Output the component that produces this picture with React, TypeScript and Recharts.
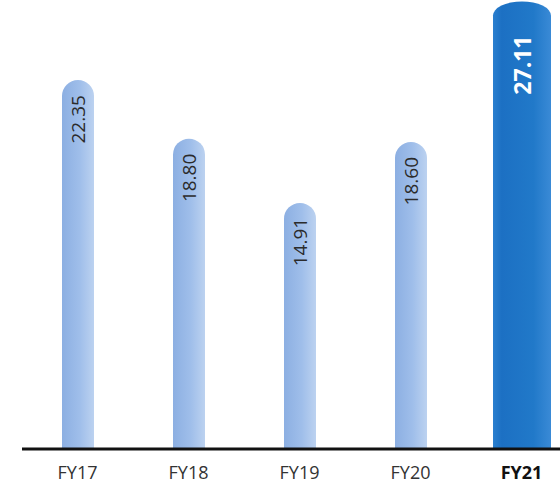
import { Bar, BarChart, LabelList, XAxis, YAxis } from 'recharts';

const YEARS = ['FY17', 'FY18', 'FY19', 'FY20', 'FY21'];
const VALUES = [22.35, 18.8, 14.91, 18.6, 27.11];
const HIGHLIGHT = 'FY21';

const data = YEARS.map((year, i) => ({ year, value: VALUES[i] }));

const FONT = '"Open Sans", "Noto Sans", sans-serif';

// flat bottom, elliptical cap on top
function capPath(x: number, y: number, w: number, h: number, ry: number) {
  const rx = w / 2;
  const r = Math.min(ry, h);
  return `M${x},${y + h} L${x},${y + r} A${rx},${r} 0 0 1 ${x + w},${y + r} L${x + w},${y + h} Z`;
}

function BarShape(props: any) {
  const { x, y, width, height, payload } = props;
  const hot = payload.year === HIGHLIGHT;
  const w = hot ? 58 : width;
  const left = x + width / 2 - w / 2;
  return (
    <path
      d={capPath(left, y, w, height, hot ? 14 : width / 2)}
      fill={hot ? 'url(#gradHot)' : 'url(#gradCool)'}
    />
  );
}

function ValueLabel(props: any) {
  const { x, y, width, value, index } = props;
  const hot = YEARS[index] === HIGHLIGHT;
  const cx = x + width / 2;
  const top = y + (hot ? 34 : 15);
  return (
    <text
      x={cx}
      y={top}
      transform={`rotate(-90 ${cx} ${top})`}
      textAnchor="end"
      dominantBaseline="central"
      fontFamily={FONT}
      fontSize={hot ? 23 : 19}
      fontWeight={hot ? 700 : 400}
      fill={hot ? '#ffffff' : '#2b2b2b'}
    >
      {Number(value).toFixed(2)}
    </text>
  );
}

function YearTick(props: any) {
  const { x, payload } = props;
  const hot = payload.value === HIGHLIGHT;
  return (
    <text
      x={x}
      y={472}
      textAnchor="middle"
      dominantBaseline="central"
      fontFamily={FONT}
      fontSize={18}
      fontWeight={hot ? 700 : 400}
      fill={hot ? '#111' : '#333'}
    >
      {payload.value}
    </text>
  );
}

export default function App() {
  return (
    <div style={{ position: 'absolute', left: 0, top: 0, width: 560, height: 486, overflow: 'hidden', background: '#fff' }}>
      <BarChart width={577} height={486} data={data} margin={{ top: 0, right: 0, left: 22, bottom: 0 }} barSize={32}>
        <defs>
          <linearGradient id="gradCool" x1="0" y1="0" x2="1" y2="0">
            <stop offset="0%" stopColor="#8cafe2" />
            <stop offset="55%" stopColor="#9fbeea" />
            <stop offset="100%" stopColor="#bcd2f0" />
          </linearGradient>
          <linearGradient id="gradHot" x1="0" y1="0" x2="1" y2="0">
            <stop offset="0%" stopColor="#2a7fcf" />
            <stop offset="15%" stopColor="#1c70c3" />
            <stop offset="70%" stopColor="#2179c9" />
            <stop offset="100%" stopColor="#3a8ad6" />
          </linearGradient>
        </defs>
        <XAxis
          dataKey="year"
          height={37}
          axisLine={{ stroke: '#111', strokeWidth: 3 }}
          tickLine={false}
          interval={0}
          tick={<YearTick />}
        />
        <YAxis hide domain={[0, 27.2]} />
        <Bar dataKey="value" shape={<BarShape />} isAnimationActive={false}>
          <LabelList dataKey="value" content={<ValueLabel />} />
        </Bar>
      </BarChart>
    </div>
  );
}
